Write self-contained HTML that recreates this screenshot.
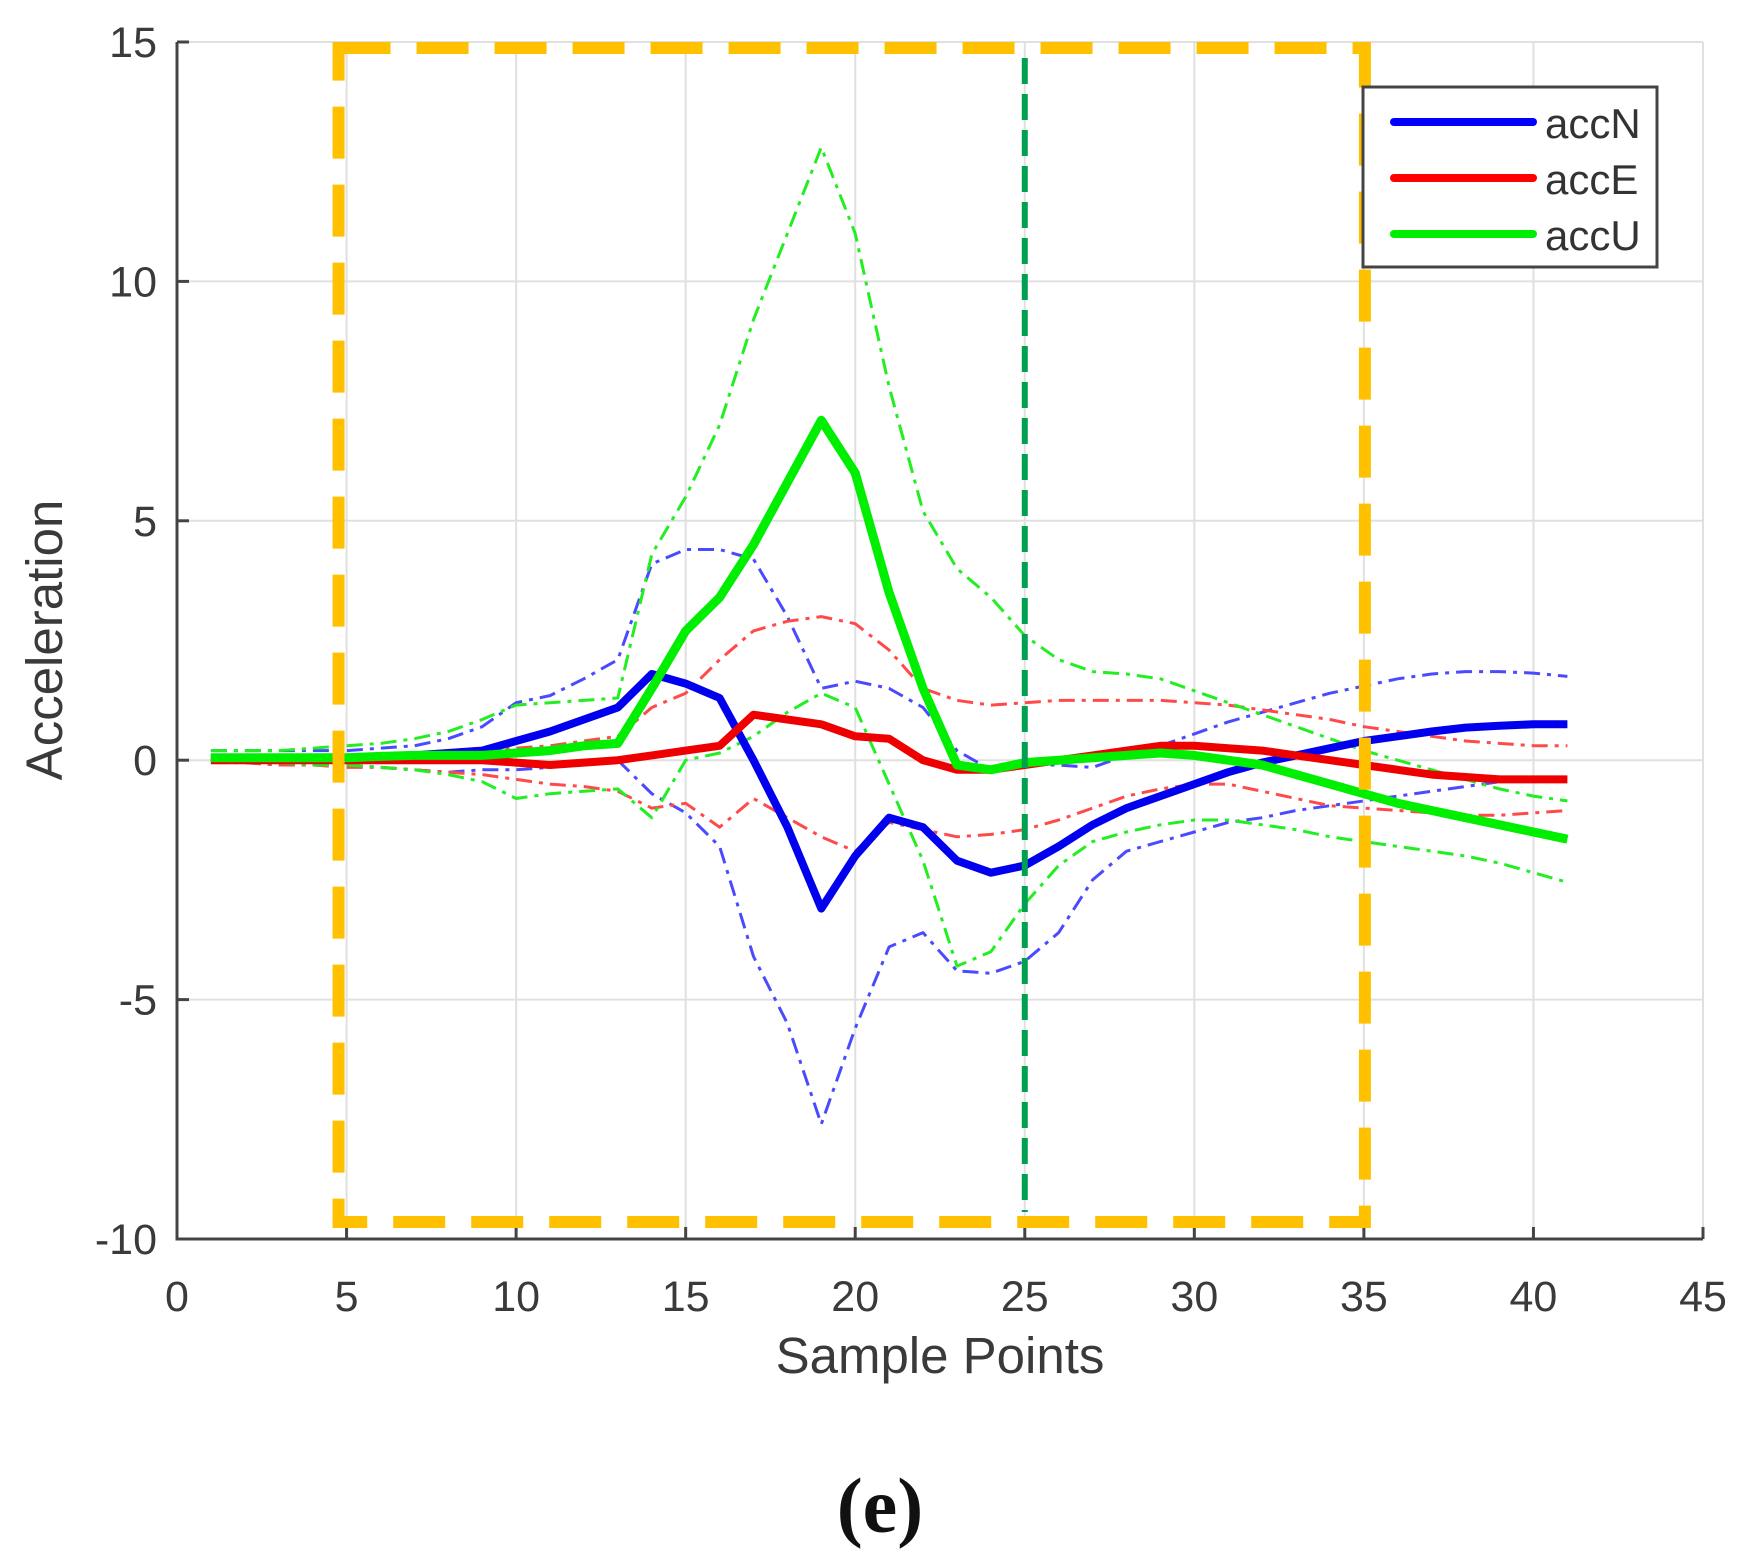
<!DOCTYPE html>
<html><head><meta charset="utf-8"><style>
html,body{margin:0;padding:0;background:#fff}
svg{display:block}
text{font-family:"Liberation Sans",sans-serif}
</style></head><body>
<svg id="chart" width="1746" height="1561" viewBox="0 0 1746 1561">
<g id="grid"></g>
<g id="axes"></g>
<g id="series"></g>
<g id="overlay"></g>
<text x="940" y="1373" font-size="51" fill="#3a3a3a" text-anchor="middle">Sample Points</text>
<text transform="translate(62,640) rotate(-90)" font-size="51" fill="#3a3a3a" text-anchor="middle">Acceleration</text>
<text x="880" y="1532" font-size="78" font-weight="bold" fill="#111" text-anchor="middle" style="font-family:'Liberation Serif',serif">(e)</text>
<g>
<rect x="1363" y="87" width="294" height="180" fill="#fff" stroke="#444" stroke-width="3"/>
<g><line x1="1394" y1="122" x2="1533" y2="122" stroke="#0000ff" stroke-width="8" stroke-linecap="round"/><text x="1545" y="138" font-size="42" fill="#333">accN</text></g>
<g><line x1="1394" y1="178" x2="1533" y2="178" stroke="#ff0000" stroke-width="8" stroke-linecap="round"/><text x="1545" y="194" font-size="42" fill="#333">accE</text></g>
<g><line x1="1394" y1="234" x2="1533" y2="234" stroke="#00ee00" stroke-width="8" stroke-linecap="round"/><text x="1545" y="250" font-size="42" fill="#333">accU</text></g>
</g>
</svg>
<script>
const samples = Array.from({length:41},(_, i)=>i+1);
const accN = [0.05,0.05,0.05,0.05,0.05,0.08,0.1,0.15,0.2,0.4,0.6,0.85,1.1,1.8,1.6,1.3,0,-1.4,-3.1,-2,-1.2,-1.4,-2.1,-2.35,-2.2,-1.8,-1.35,-1.0,-0.75,-0.5,-0.25,-0.05,0.1,0.25,0.4,0.5,0.6,0.68,0.72,0.75,0.75];
const accE = [0,0,0,0,0,0,0,0,0,-0.05,-0.1,-0.05,0,0.1,0.2,0.3,0.95,0.85,0.75,0.5,0.45,0,-0.2,-0.2,-0.1,0,0.1,0.2,0.3,0.3,0.25,0.2,0.1,0,-0.1,-0.2,-0.3,-0.35,-0.4,-0.4,-0.4];
const accU = [0.05,0.05,0.05,0.05,0.05,0.08,0.1,0.1,0.1,0.15,0.2,0.3,0.35,1.5,2.7,3.4,4.5,5.8,7.1,6,3.5,1.5,-0.1,-0.2,-0.05,0,0.05,0.1,0.15,0.1,0,-0.1,-0.3,-0.5,-0.7,-0.9,-1.05,-1.2,-1.35,-1.5,-1.65];
const accNUpper = [0.2,0.2,0.2,0.2,0.2,0.25,0.3,0.45,0.7,1.2,1.35,1.7,2.1,4.1,4.4,4.4,4.2,3,1.5,1.65,1.5,1.1,0.2,-0.2,-0.1,-0.1,-0.15,0.1,0.3,0.55,0.8,1.0,1.2,1.4,1.55,1.7,1.8,1.85,1.85,1.82,1.75];
const accNLower = [0,-0.05,-0.1,-0.1,-0.1,-0.15,-0.2,-0.25,-0.2,-0.2,-0.15,-0.05,0,-0.7,-1.1,-1.8,-4.1,-5.5,-7.6,-5.6,-3.9,-3.6,-4.4,-4.45,-4.2,-3.6,-2.5,-1.9,-1.7,-1.5,-1.3,-1.2,-1.05,-0.95,-0.85,-0.75,-0.65,-0.55,-0.45,-0.35,-0.35];
const accEUpper = [0.05,0.05,0.05,0.05,0.05,0.1,0.15,0.2,0.25,0.25,0.3,0.4,0.5,1.1,1.4,2.1,2.7,2.9,3.0,2.85,2.3,1.5,1.25,1.15,1.2,1.25,1.25,1.25,1.25,1.2,1.15,1.05,0.95,0.85,0.7,0.6,0.5,0.4,0.35,0.3,0.3];
const accELower = [-0.05,-0.05,-0.1,-0.1,-0.15,-0.15,-0.2,-0.25,-0.3,-0.4,-0.5,-0.55,-0.65,-1,-0.9,-1.4,-0.8,-1.2,-1.6,-1.9,-1.3,-1.45,-1.6,-1.55,-1.45,-1.25,-1.0,-0.75,-0.6,-0.5,-0.5,-0.65,-0.8,-0.95,-1.0,-1.05,-1.1,-1.15,-1.15,-1.1,-1.05];
const accUUpper = [0.2,0.2,0.2,0.25,0.3,0.35,0.45,0.6,0.85,1.15,1.2,1.25,1.3,4.3,5.5,7.0,9.2,11,12.8,11,7.8,5.2,4.0,3.4,2.6,2.1,1.85,1.8,1.7,1.45,1.2,0.95,0.7,0.45,0.2,0,-0.2,-0.4,-0.6,-0.75,-0.85];
const accULower = [0,-0.05,-0.05,-0.1,-0.1,-0.15,-0.2,-0.3,-0.45,-0.8,-0.7,-0.65,-0.6,-1.2,0,0.15,0.5,1.0,1.4,1.1,-0.5,-2.1,-4.3,-4,-3,-2.2,-1.7,-1.5,-1.35,-1.25,-1.25,-1.35,-1.45,-1.6,-1.7,-1.8,-1.9,-2.0,-2.15,-2.35,-2.55];
const xTicks = [0,5,10,15,20,25,30,35,40,45];
const yTicks = [-10,-5,0,5,10,15];
const boxRange = [5,35];
const markerX = 25;

const NS="http://www.w3.org/2000/svg";
const X0=177,X1=1703,Y0=1239,Y1=42;
const sx=v=>X0+(v-0)/(45-0)*(X1-X0);
const sy=v=>Y0-(v+10)/(25)*(Y0-Y1);
function mk(tag,attrs,parent){const e=document.createElementNS(NS,tag);for(const k in attrs)e.setAttribute(k,attrs[k]);parent.appendChild(e);return e;}
const grid=document.getElementById('grid'),axes=document.getElementById('axes'),series=document.getElementById('series'),overlay=document.getElementById('overlay');
xTicks.forEach(t=>{
  const g=mk('line',{x1:sx(t),x2:sx(t),y1:Y1,y2:Y0,stroke:'#e0e0e0','stroke-width':2},grid);
  
  
  const tk=mk('line',{x1:sx(t),x2:sx(t),y1:Y0,y2:Y0-12,stroke:'#444','stroke-width':3},axes);
  
  
  const lb=mk('text',{x:sx(t),y:Y0+72,'font-size':43,fill:'#3a3a3a','text-anchor':'middle'},axes);
  lb.textContent=t;
  
  
});
yTicks.forEach(t=>{
  const g=mk('line',{x1:X0,x2:X1,y1:sy(t),y2:sy(t),stroke:'#e0e0e0','stroke-width':2},grid);
  
  
  const tk=mk('line',{x1:X0,x2:X0+12,y1:sy(t),y2:sy(t),stroke:'#444','stroke-width':3},axes);
  
  
  const lb=mk('text',{x:X0-20,y:sy(t)+15,'font-size':43,fill:'#3a3a3a','text-anchor':'end'},axes);
  lb.textContent=t;
  
  
});
const ax=mk('path',{d:`M${X0},${Y1}V${Y0}H${X1}`,fill:'none',stroke:'#444','stroke-width':3},axes);


function line(arr,color,w,dash,name){
  const d=arr.map((v,i)=>(i?'L':'M')+sx(samples[i]).toFixed(1)+','+sy(v).toFixed(1)).join('');
  const p=mk('path',{d,fill:'none',stroke:color,'stroke-width':w,'stroke-linejoin':'round'},series);
  if(dash)p.setAttribute('stroke-dasharray',dash);
  
  
}
const dd='16,7,4,7';
line(accNUpper,'#4a4aff',3,dd,'accn-upper-bound');
line(accNLower,'#4a4aff',3,dd,'accn-lower-bound');
line(accEUpper,'#ff4a4a',3,dd,'acce-upper-bound');
line(accELower,'#ff4a4a',3,dd,'acce-lower-bound');
line(accUUpper,'#22ee22',3,dd,'accu-upper-bound');
line(accULower,'#22ee22',3,dd,'accu-lower-bound');
line(accN,'#0000ee',8,null,'accn-line');
line(accE,'#ee0000',8,null,'acce-line');
line(accU,'#00ee00',9,null,'accu-line');
const bl=sx(boxRange[0])-8,br=sx(boxRange[1])+1;
const box=mk('path',{d:`M${bl},48H${br}V1222H${bl}Z`,fill:'none',stroke:'#ffc000','stroke-width':12,'stroke-dasharray':'52,26'},overlay);


const vm=mk('line',{x1:sx(markerX),x2:sx(markerX),y1:58,y2:1212,stroke:'#00a050','stroke-width':6,'stroke-dasharray':'26,10'},overlay);


</script>
</body></html>
